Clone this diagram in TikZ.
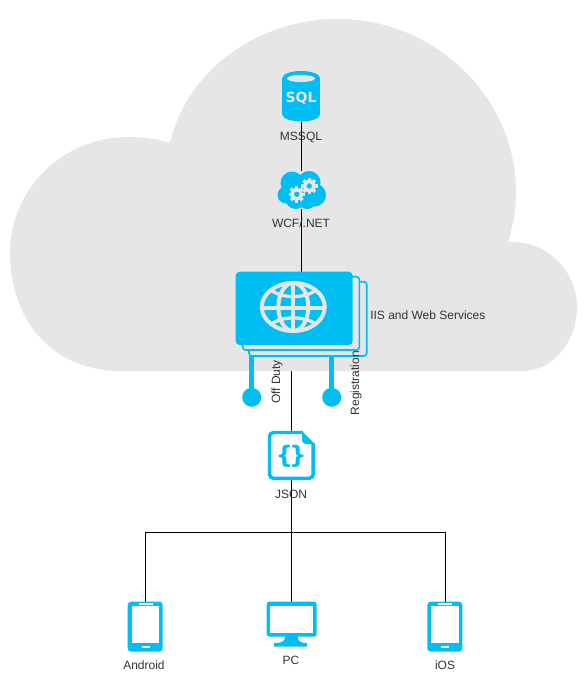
\documentclass[tikz,border=0pt]{standalone}
\usepackage{fontspec}
\setmainfont{Liberation Sans}
\newfontfamily\iconfont{DejaVu Sans}
\pgfdeclarelayer{under}
\pgfdeclarelayer{skyshape}
\pgfsetlayers{under,skyshape,main}
\definecolor{cy}{HTML}{00BEF2}
\definecolor{cl}{HTML}{E6E6E6}
\definecolor{tx}{HTML}{333333}
\tikzset{
  box/.style={inner sep=0pt,outer sep=0pt,minimum width=#1},
  lbl/.style={font=\fontsize{9}{10}\selectfont,text=tx,inner sep=0pt},
  conn/.style={black,line width=0.75pt},
  pagerect/.style={draw=cy,fill=cl,line width=1.2pt,rounded corners=2.2pt}
}
\begin{document}
\begin{tikzpicture}[x=0.75pt,y=-0.75pt]
\useasboundingbox (0,0) rectangle (583,690);
% anchor nodes
\node[box=37.7pt,minimum height=37.7pt] (mssql) at (301,96.5) {};
\node[box=37pt,minimum height=28.5pt] (wcf) at (301,190) {};
\node[box=87.75pt,minimum height=55pt] (iis) at (294.2,308.5) {};
\node[box=35.5pt,minimum height=37pt] (json) at (291.3,455.5) {};
\node[box=26pt,minimum height=37.5pt] (android) at (145,626.7) {};
\node[box=37.5pt,minimum height=34pt] (pc) at (291.7,624.2) {};
\node[box=26pt,minimum height=37.5pt] (ios) at (445,626.7) {};
\coordinate (bus) at (291,532);
\coordinate (iisb) at (291,356);
% connectors
\begin{pgfonlayer}{under}
\draw[conn] (json.north -| bus) -- (iisb);
\end{pgfonlayer}
\begin{pgfonlayer}{skyshape}
\fill[cl] (117,371)
  .. controls (48,369) and (10,316) .. (10,253)
  .. controls (10,190) and (62,137) .. (128,137)
  .. controls (142,137) and (157,139) .. (170,143)
  .. controls (187,70) and (258,19) .. (338,19)
  .. controls (436,19) and (516,98) .. (516,192)
  .. controls (516,210) and (513,226) .. (508,242)
  .. controls (548,240) and (577,272) .. (577,307)
  .. controls (577,343) and (552,371) .. (523,371)
  -- cycle;
\end{pgfonlayer}
\draw[conn] (mssql.south) -- (wcf.north);
\draw[conn] (wcf.south) -- (iis.north -| wcf.south);
\draw[conn] (json.south -| bus) -- (pc.north -| bus);
\draw[conn] (bus -| android.north) -- (bus -| ios.north);
\draw[conn] (bus -| android.north) -- (android.north);
\draw[conn] (bus -| ios.north) -- (ios.north);
% MSSQL icon
\fill[cy] (282.3,78) rectangle (320,114.5);
\fill[cy] (301.15,78) ellipse[x radius=18.85,y radius=7];
\fill[cy] (301.15,114.5) ellipse[x radius=18.85,y radius=7];
\fill[cl] (301,78.5) ellipse[x radius=14,y radius=3.6];
\node[font=\iconfont\bfseries\fontsize{10.5}{11}\selectfont,text=cl,inner sep=0pt] (sqltxt) at (301,98.5) {SQL};
\node[lbl] (mssqll) at (301,137) {MSSQL};
% WCF icon
\fill[cy] (292,183) circle[radius=11.5] (309,182.5) circle[radius=11.5] (314.5,195) circle[radius=11.5]
  (286,195) circle[radius=8.5] (296,198) circle[radius=11] (307,200) circle[radius=9] (300,190) circle[radius=10];
\foreach \cx/\cy in {296.7/194.3,309.3/186}{
  \begin{scope}[shift={(\cx,\cy)}]
  \foreach \a in {0,45,...,315}
    \fill[cl,rotate=\a] (-1.7,-8.2) rectangle (1.7,-4);
  \fill[cl,even odd rule] (0,0) circle[radius=6.2] (0,0) circle[radius=2.8];
  \end{scope}
}
\node[lbl] (wcfl) at (301,223.7) {WCF/.NET};
% IIS pins
\fill[cy] (249.3,355) rectangle (254.3,392);
\fill[cy] (251.7,397.3) circle[radius=9.5];
\fill[cy] (329.3,355) rectangle (334.3,392);
\fill[cy] (331.7,397.3) circle[radius=9.5];
% IIS pages
\draw[pagerect] (249,281.7) rectangle (366.7,356);
\draw[pagerect] (242.7,276.7) rectangle (359.3,350);
\fill[cy,rounded corners=3pt] (235.7,271.7) rectangle (352.7,345);
\begin{scope}[cl,line width=3pt]
\draw (293.3,307) ellipse[x radius=31.5,y radius=24];
\draw (293.3,307) ellipse[x radius=15,y radius=24];
\draw (293.3,283) -- (293.3,331);
\draw (261.8,307.5) -- (324.8,307.5);
\draw[line width=2.5pt] (270,289.5) .. controls (282,299) and (305,299) .. (317,289.5);
\draw[line width=2.5pt] (270,325) .. controls (282,315.5) and (305,315.5) .. (317,325);
\end{scope}
\node[lbl,anchor=west] (iisl) at (370,315) {IIS and Web Services};
\node[lbl,rotate=90] (off) at (277,382) {Off Duty};
\node[lbl,rotate=90] (reg) at (356,383) {Registration};
% JSON icon
\draw[cy,line width=2.6pt,rounded corners=3pt] (303,432.5) -- (269.5,432.5) -- (269.5,478.3) -- (313.2,478.3) -- (313.2,443);
\fill[cy] (302,431) -- (315,444) -- (306,444) .. controls (303,444) and (302,442) .. (302,440) -- cycle;
\node[font=\iconfont\bfseries\fontsize{18}{18}\selectfont,text=cy,inner sep=0pt] (bracel) at (284.5,456) {\{};
\node[font=\iconfont\bfseries\fontsize{18}{18}\selectfont,text=cy,inner sep=0pt] (bracer) at (298,456) {\}};
\node[lbl] (jsonl) at (291,494) {JSON};
% Phones
\foreach \n/\ox in {a/127.7,i/427.3}{
  \begin{scope}[xshift=\ox*0.75pt]
  \fill[cy,rounded corners=2.5pt] (0,601.7) rectangle (35,651.7);
  \fill[white] (4,605.7) rectangle (31.5,643.3);
  \fill[white] (11,603) rectangle (25,605);
  \fill[white] (14,646) rectangle (22,648.3);
  \end{scope}
}
\node[lbl] (androidl) at (144,665.7) {Android};
\node[lbl] (iosl) at (445,665.7) {iOS};
% PC
\fill[cy,rounded corners=2pt] (266.7,601.7) rectangle (316.7,636.7);
\fill[white] (270.2,605.5) rectangle (313.2,633.3);
\fill[cy] (285,636) .. controls (285,641) and (283,643) .. (274,643) -- (274,646.7) -- (307,646.7) -- (307,643)
  .. controls (300,643) and (297.7,641) .. (297.7,636) -- cycle;
\node[lbl] (pcl) at (291,660.5) {PC};
\end{tikzpicture}
\end{document}
